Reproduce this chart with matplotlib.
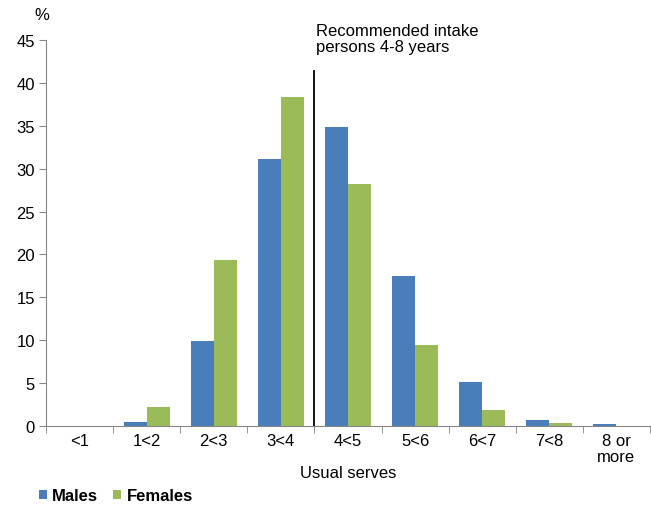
import matplotlib
matplotlib.use("Agg")
import matplotlib.pyplot as plt
import numpy as np

plt.rcParams['font.family'] = ['Liberation Sans', 'DejaVu Sans']

categories = ["<1", "1<2", "2<3", "3<4", "4<5", "5<6", "6<7", "7<8", "8 or\nmore"]
males = [0.0, 0.5, 9.9, 31.1, 34.9, 17.5, 5.1, 0.7, 0.2]
females = [0.0, 2.2, 19.4, 38.4, 28.2, 9.5, 1.9, 0.4, 0.0]
yticks = [0, 5, 10, 15, 20, 25, 30, 35, 40, 45]

blue = "#4A7EBB"
green = "#9BBB59"
grey = "#868686"
fs = 12

fig = plt.figure(figsize=(6.51, 5.06), dpi=100)
ax = fig.add_axes([46/651, 1-427/506, (650-46)/651, (427-41)/506])

x = np.arange(len(categories))
w = 0.345
ax.bar(x - w/2, males, width=w, color=blue, label="Males")
ax.bar(x + w/2, females, width=w, color=green, label="Females")

ax.set_xlim(-0.5, len(categories) - 0.5)
ax.set_ylim(0, 45)
ax.set_yticks(yticks)
ax.tick_params(axis='y', labelsize=fs, length=5, color=grey, pad=3)
ax.set_xticks(x)
ax.set_xticklabels(categories, fontsize=fs, linespacing=1.05)
ax.tick_params(axis='x', length=0, pad=5)
ax.set_xticks(np.arange(-0.5, len(categories) + 0.5, 1), minor=True)
ax.tick_params(axis='x', which='minor', length=5, color=grey)

for s in ['top', 'right']:
    ax.spines[s].set_visible(False)
for s in ['left', 'bottom']:
    ax.spines[s].set_color(grey)

ax.plot([3.5, 3.5], [0, 41.4], color='black', lw=1.3, clip_on=False)
ax.text(3.53, 45.2, "Recommended intake\npersons 4-8 years", ha='left', va='center',
        fontsize=fs, linespacing=1.1)
ax.text(-0.007, 1.067, "%", transform=ax.transAxes, ha='center', va='center', fontsize=fs)

ax.set_xlabel("Usual serves", fontsize=fs, labelpad=1)

leg = ax.legend(loc='center left', bbox_to_anchor=(-0.012, -0.181), ncol=2, frameon=False,
                fontsize=fs, handlelength=0.5, handleheight=0.5, handletextpad=0.3,
                columnspacing=0.9, borderaxespad=0, borderpad=0)
for t in leg.get_texts():
    t.set_fontweight('bold')

fig.savefig("out.png", dpi=100)
